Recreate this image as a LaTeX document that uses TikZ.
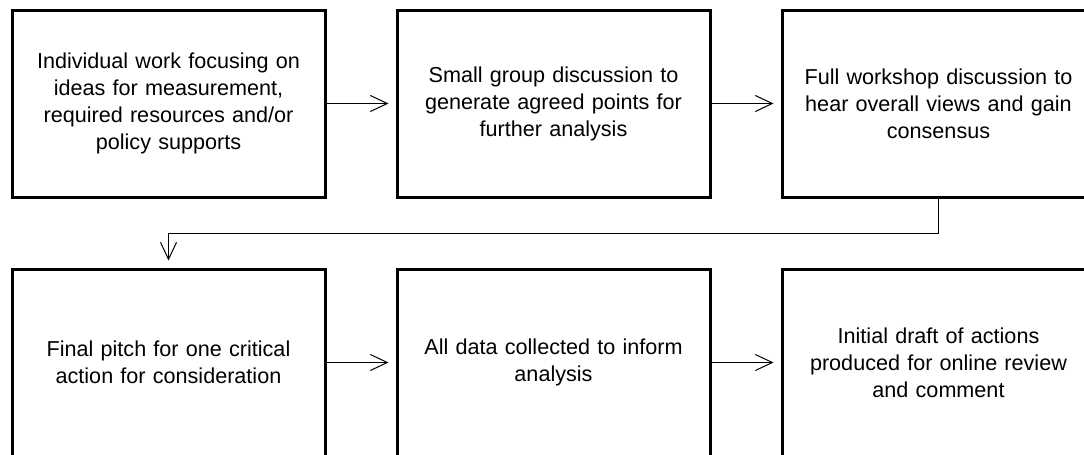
\documentclass[tikz,border=0pt]{standalone}
\usepackage{fontspec}
\setmainfont{Liberation Sans}
\usetikzlibrary{arrows.meta, positioning}

\begin{document}
\begin{tikzpicture}[
        x=0.5pt, y=-0.5pt,
        stage/.style={draw, line width=1.5pt, minimum width=156.5pt, minimum height=93.5pt,
                      align=center, text width=140pt, inner sep=0pt,
                      font=\fontsize{10.8}{13.5}\selectfont},
        flow/.style={line width=0.5pt, -{Straight Barb[length=8.5pt, width=8pt, line width=0.5pt]},
                     shorten >=3.5pt}
    ]
    \clip (0, 0) rectangle (1084, 455);

    % Top row
    \node[stage] (s1) at (168.5, 103.5) {Individual work focusing on\\ideas for measurement,\\required resources and/or\\policy supports};
    \node[stage] (s2) at (553.5, 103.5) {Small group discussion to\\generate agreed points for\\further analysis};
    \node[stage] (s3) at (938.5, 103.5) {Full workshop discussion to\\hear overall views and gain\\consensus};

    % Bottom row
    \node[stage] (s4) at (168.5, 362.5) {Final pitch for one critical\\action for consideration};
    \node[stage] (s5) at (553.5, 362.5) {All data collected to inform\\analysis};
    \node[stage] (s6) at (938.5, 362.5) {Initial draft of actions\\produced for online review\\and comment};

    % Arrows along the rows
    \draw[flow] (s1) -- (s2);
    \draw[flow] (s2) -- (s3);
    \draw[flow] (s4) -- (s5);
    \draw[flow] (s5) -- (s6);

    % Return to the second row
    \coordinate (turn) at (938.5, 233);
    \draw[flow] (s3.south) -- (turn) -| (s4.north);
\end{tikzpicture}
\end{document}
